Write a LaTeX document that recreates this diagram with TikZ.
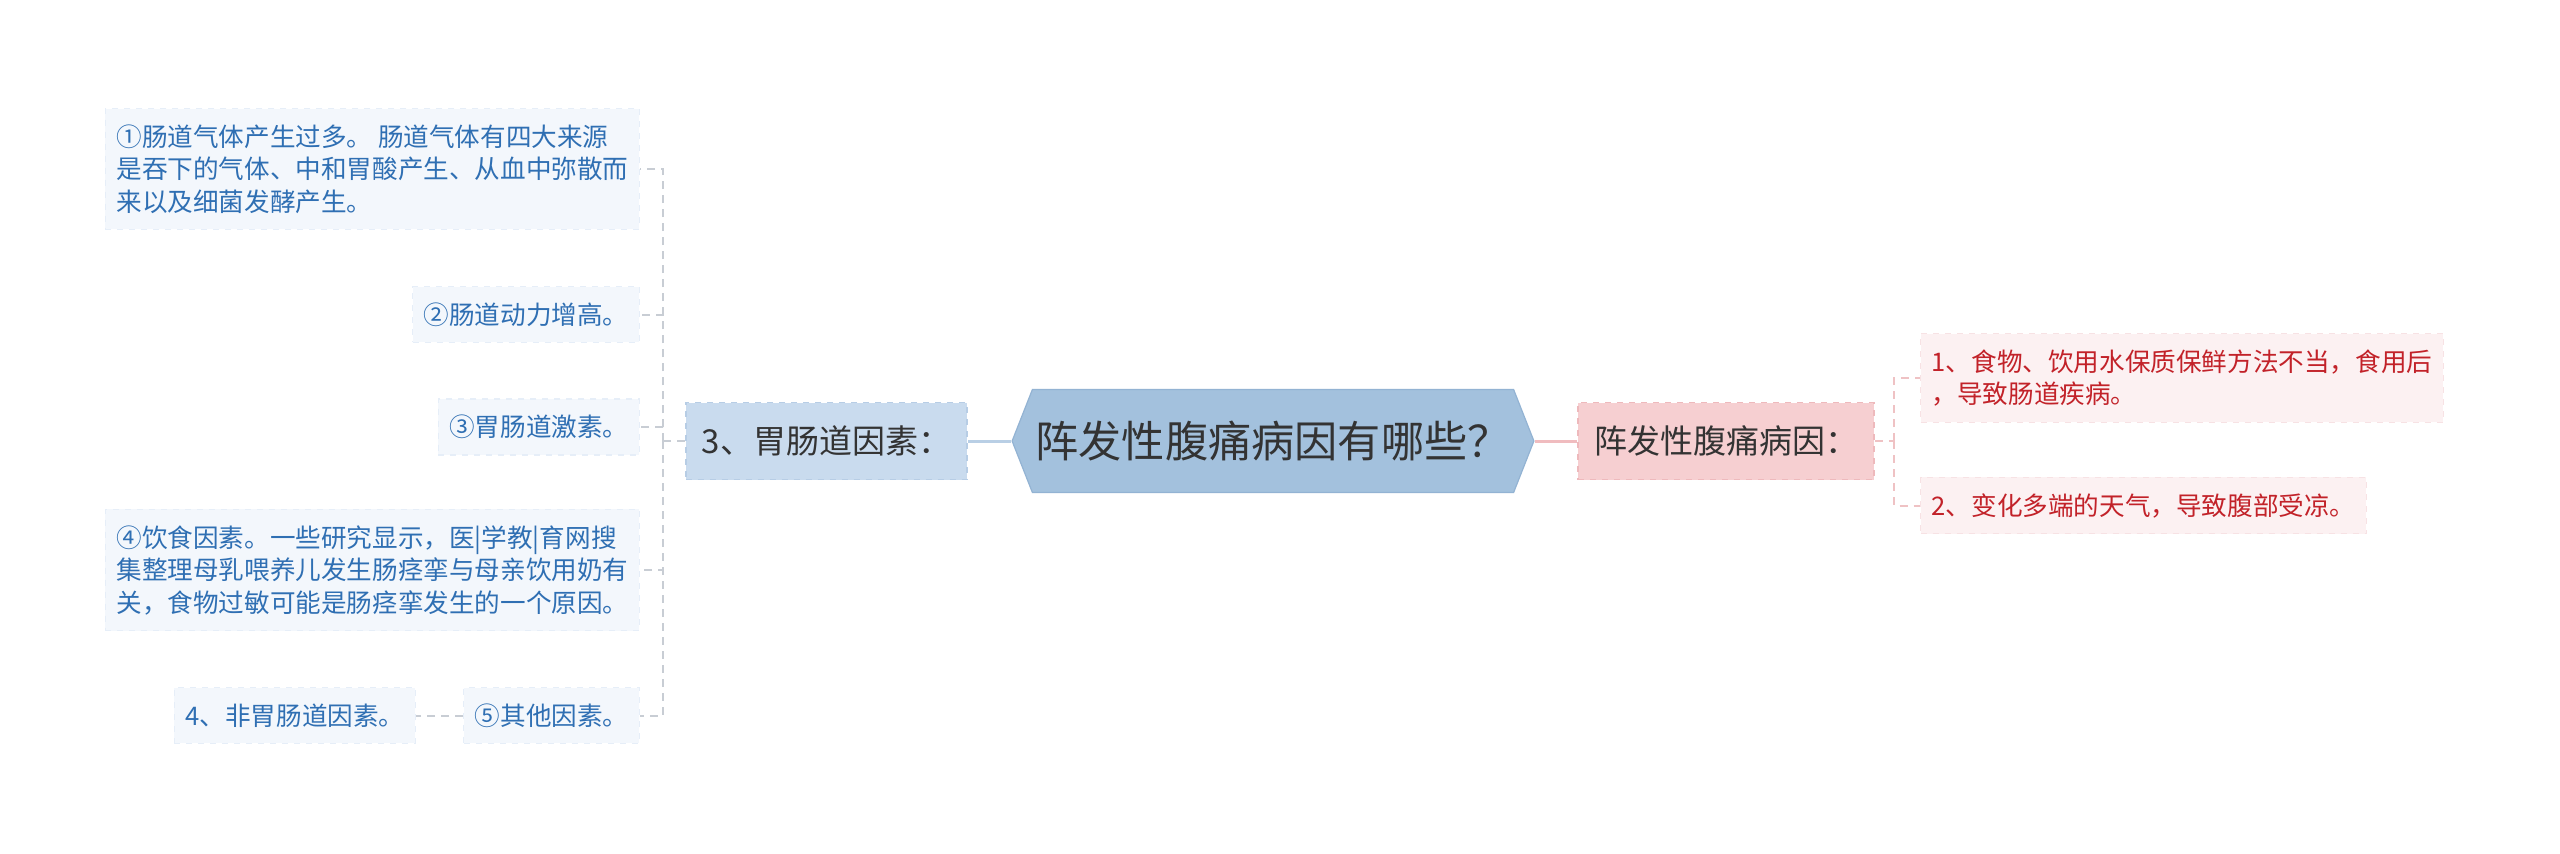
\documentclass[tikz,border=0pt]{standalone}
\usepackage{fontspec}
\setmainfont{Noto Sans CJK SC}
\usetikzlibrary{shapes.symbols}

\definecolor{rootfill}{HTML}{A3C1DD}
\definecolor{rootedge}{HTML}{93B3D3}
\definecolor{lmainfill}{HTML}{C9DBEE}
\definecolor{lmainedge}{HTML}{B7CDE5}
\definecolor{rmainfill}{HTML}{F6CFD1}
\definecolor{rmainedge}{HTML}{EEB9BC}
\definecolor{lleaffill}{HTML}{F3F7FC}
\definecolor{lleafedge}{HTML}{E6EEF8}
\definecolor{rleaffill}{HTML}{FCF1F2}
\definecolor{rleafedge}{HTML}{F7E2E4}
\definecolor{lleaftext}{HTML}{2F6FB3}
\definecolor{rleaftext}{HTML}{C22229}
\definecolor{darktext}{HTML}{333333}
\definecolor{llink}{HTML}{C8CDD4}
\definecolor{rlink}{HTML}{EFC2C4}
\definecolor{lrootlink}{HTML}{B9CFE5}
\definecolor{rrootlink}{HTML}{F0BCBF}

\tikzset{every picture/.style={line width=0.75pt}}
\tikzset{
  rootnode/.style={shape=signal, signal to=west and east, signal pointer angle=137,
    fill=rootfill, draw=rootedge, line width=0.6pt, text=darktext,
    font=\fontsize{21.6}{25}\selectfont, inner xsep=1.5pt, inner ysep=0pt, minimum height=51.5pt},
  topicl/.style={fill=lmainfill, draw=lmainedge, dashed, line width=0.8pt, text=darktext,
    font=\fontsize{16.5}{19}\selectfont, inner xsep=8pt, inner ysep=0pt, minimum height=38.5pt},
  topicr/.style={topicl, fill=rmainfill, draw=rmainedge},
  leafl/.style={fill=lleaffill, draw=lleafedge, dashed, line width=0.6pt, text=lleaftext,
    font=\fontsize{12.8}{16.25}\selectfont, align=left, inner xsep=5.5pt, inner ysep=8pt},
  leafr/.style={leafl, fill=rleaffill, draw=rleafedge, text=rleaftext},
  linkl/.style={draw=llink, line width=1pt, dash pattern=on 4pt off 3pt},
  linkr/.style={linkl, draw=rlink},
  rootlinkl/.style={draw=lrootlink, line width=1.5pt},
  rootlinkr/.style={draw=rrootlink, line width=1.5pt}
}

\begin{document}
\begin{tikzpicture}[x=0.5pt,y=0.5pt,yscale=-1,xscale=1]
  \useasboundingbox (0,0) rectangle (2560,853);

  % Root
  \node[rootnode] (root) at (1273,441) {阵发性腹痛病因有哪些？};

  % Main topics
  \node[topicl] (lmain) at (826.5,441) {3、胃肠道因素：};
  \node[topicr] (rmain) at (1726,441) {阵发性腹痛病因：};

  % Right leaves
  \node[leafr, anchor=west] (rone) at (1920,378) {1、食物、饮用水保质保鲜方法不当，食用后\\，导致肠道疾病。};
  \node[leafr, anchor=west] (rtwo) at (1920,505.5) {2、变化多端的天气，导致腹部受凉。};

  % Left leaves
  \node[leafl, anchor=east] (gasleaf) at (640,169) {①肠道气体产生过多。 肠道气体有四大来源\\是吞下的气体、中和胃酸产生、从血中弥散而\\来以及细菌发酵产生。};
  \node[leafl, anchor=east] (motleaf) at (640,314.5) {②肠道动力增高。};
  \node[leafl, anchor=east] (hormleaf) at (640,427) {③胃肠道激素。};
  \node[leafl, anchor=east] (dietleaf) at (640,570) {④饮食因素。一些研究显示，医|学教|育网搜\\集整理母乳喂养儿发生肠痉挛与母亲饮用奶有\\关，食物过敏可能是肠痉挛发生的一个原因。};
  \node[leafl, anchor=east] (otherleaf) at (640,715.5) {⑤其他因素。};
  \node[leafl, anchor=east] (nongileaf) at (416,715.5) {4、非胃肠道因素。};

  % Junctions
  \coordinate (ljoin) at (663,441);
  \coordinate (rjoin) at (1894,441);

  % Links
  \draw[rootlinkl] (root.west) -- (lmain.east);
  \draw[rootlinkr] (root.east) -- (rmain.west);

  \draw[linkr] (rmain.east) -- (rjoin);
  \draw[linkr] (rjoin) |- (rone.west);
  \draw[linkr] (rjoin) |- (rtwo.west);

  \draw[linkl] (lmain.west) -- (ljoin);
  \draw[linkl] (ljoin) |- (gasleaf.east);
  \draw[linkl] (ljoin) |- (motleaf.east);
  \draw[linkl] (ljoin) |- (hormleaf.east);
  \draw[linkl] (ljoin) |- (dietleaf.east);
  \draw[linkl] (ljoin) |- (otherleaf.east);
  \draw[linkl] (otherleaf.west) -- (nongileaf.east);
\end{tikzpicture}
\end{document}
